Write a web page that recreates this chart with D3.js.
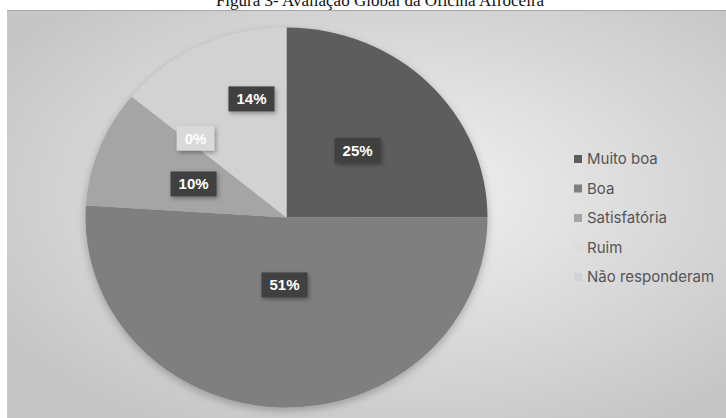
<!DOCTYPE html>
<html>
<head>
<meta charset="utf-8">
<script src="https://cdn.jsdelivr.net/npm/d3@7"></script>
<style>
  html, body { margin: 0; padding: 0; background: #fff; }
  svg { display: block; }
</style>
</head>
<body>
<div id="chart"></div>
<script>
// data
const categories = ["Muito boa", "Boa", "Satisfatória", "Ruim", "Não responderam"];
const values = [25, 51, 10, 0, 14];
const labels = ["25%", "51%", "10%", "0%", "14%"];
const title = "Figura 3- Avaliação Global da Oficina Afroceira";

const colors = ["#5d5d5d", "#7f7f7f", "#a5a5a5", "#dcdcdc", "#d2d2d2"];
// where each label sits: fraction of radius and angle nudge (deg)
const labelPlace = [
    {f: 0.5, da: 0},
    {f: 0.355, da: -0.2},
    {f: 0.495, da: -0.7},
    {f: 0.616, da: 3.1},
    {f: 0.648, da: 9.6}
];

const width = 726;
const height = 418;

const svg = d3.select("#chart")
    .append("svg")
    .attr("width", width)
    .attr("height", height);

const defs = svg.append("defs");

// soft gradient of the chart area, lighter towards the middle
const grad = defs.append("radialGradient")
    .attr("id", "bg")
    .attr("cx", "55%").attr("cy", "45%").attr("r", "65%");
grad.append("stop").attr("offset", "0%").attr("stop-color", "#f2f2f2");
grad.append("stop").attr("offset", "100%").attr("stop-color", "#c6c6c6");

const shadow = defs.append("filter")
    .attr("id", "shadow")
    .attr("x", "-20%").attr("y", "-20%").attr("width", "150%").attr("height", "150%");
shadow.append("feDropShadow")
    .attr("dx", 1.5).attr("dy", 2).attr("stdDeviation", 2)
    .attr("flood-color", "#000").attr("flood-opacity", 0.35);

const pieShadow = defs.append("filter")
    .attr("id", "pieShadow")
    .attr("x", "-10%").attr("y", "-10%").attr("width", "120%").attr("height", "125%");
pieShadow.append("feDropShadow")
    .attr("dx", 0).attr("dy", 3).attr("stdDeviation", 4)
    .attr("flood-color", "#000").attr("flood-opacity", 0.25);

// title, cut off at the top like in the scan
svg.append("text")
    .attr("x", 380)
    .attr("y", 6)
    .attr("text-anchor", "middle")
    .style("font-family", "'Liberation Serif', 'DejaVu Serif', serif")
    .style("font-size", "17px")
    .style("fill", "#111")
    .text(title);

// chart area
svg.append("rect")
    .attr("x", 7)
    .attr("y", 10)
    .attr("width", width - 7)
    .attr("height", height - 10)
    .attr("fill", "url(#bg)");
svg.append("line")   // faint shadow line along the top edge
    .attr("x1", 7).attr("x2", width)
    .attr("y1", 10.5).attr("y2", 10.5)
    .attr("stroke", "#a8a8a8")
    .attr("stroke-width", 1);

// the pie (the scan is slightly stretched sideways)
const cx = 286.5, cy = 217.5;
const rx = 201, ry = 190;
const r = ry;

const pie = d3.pie().sort(null).value(d => d)(values);
const arc = d3.arc().innerRadius(0).outerRadius(r);

const g = svg.append("g")
    .attr("transform", `translate(${cx}, ${cy}) scale(${rx / ry}, 1)`);

g.append("g")
    .attr("filter", "url(#pieShadow)")
    .selectAll("path")
    .data(pie)
    .enter()
    .append("path")
    .attr("d", arc)
    .attr("fill", (d, i) => colors[i]);

// data labels
const labelPos = pie.map((d, i) => {
    const a = (d.startAngle + d.endAngle) / 2 + labelPlace[i].da * Math.PI / 180;
    const rr = r * labelPlace[i].f;
    return [cx + Math.sin(a) * rr * rx / ry, cy - Math.cos(a) * rr];
});

const lab = svg.append("g")
    .selectAll("g")
    .data(pie)
    .enter()
    .append("g")
    .attr("transform", (d, i) => `translate(${labelPos[i][0]}, ${labelPos[i][1]})`);

lab.append("text")
    .attr("class", "lbl")
    .attr("text-anchor", "middle")
    .attr("dy", "0.36em")
    .style("font-family", "'Liberation Sans', Arial, sans-serif")
    .style("font-weight", "bold")
    .style("font-size", "15px")
    .style("fill", "#fff")
    .text((d, i) => labels[i]);

// boxes behind the labels, sized from the text
lab.each(function(d, i) {
    const t = d3.select(this).select("text");
    const bb = t.node().getBBox();
    d3.select(this).insert("rect", "text")
        .attr("x", bb.x - 8)
        .attr("y", -12.5)
        .attr("width", bb.width + 16)
        .attr("height", 25)
        .attr("fill", values[i] === 0 ? "#d9d9d9" : "#404040")
        .attr("filter", "url(#shadow)");
});

// legend
const legend = svg.selectAll(".legend")
    .data(categories)
    .enter()
    .append("g")
    .attr("class", "legend")
    .attr("transform", (d, i) => `translate(574, ${159 + i * 29.5})`);

legend.append("rect")
    .attr("x", 0)
    .attr("y", -4)
    .attr("width", 8)
    .attr("height", 8)
    .attr("fill", (d, i) => colors[i]);

legend.append("text")
    .attr("x", 13)
    .attr("y", 0)
    .attr("dy", "0.36em")
    .style("font-family", "Inter, 'Open Sans', sans-serif")
    .style("font-size", "15px")
    .style("fill", "#555")
    .text(d => d);
</script>
</body>
</html>
